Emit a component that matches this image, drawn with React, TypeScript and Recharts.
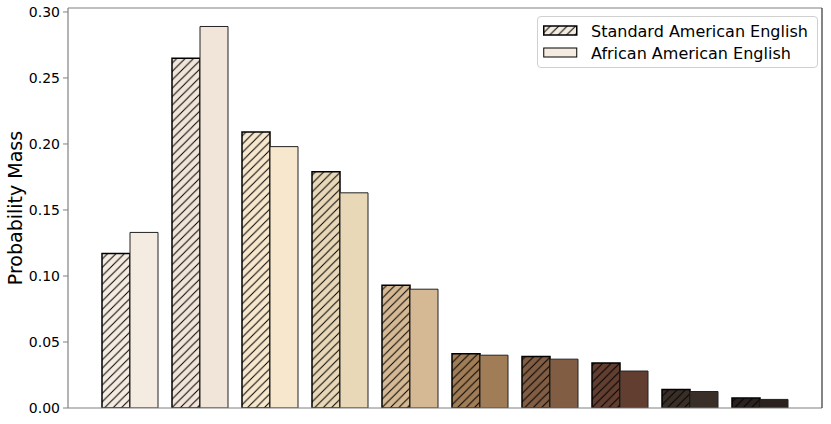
import React from "react";
import { BarChart, Bar, XAxis, YAxis, Cell } from "recharts";

const categories = ["1", "2", "3", "4", "5", "6", "7", "8", "9", "10"];
const saeValues = [0.117, 0.265, 0.209, 0.179, 0.093, 0.041, 0.039, 0.034, 0.014, 0.0075];
const aaeValues = [0.133, 0.289, 0.198, 0.163, 0.090, 0.040, 0.037, 0.028, 0.0125, 0.0065];
const groupColors = [
  "#f4ebe1",
  "#f1e4d9",
  "#f6e7cd",
  "#e8d8b8",
  "#d5b994",
  "#a07d56",
  "#815d43",
  "#613e30",
  "#3a2f28",
  "#2a221e",
];
const yTicks = [0, 0.05, 0.1, 0.15, 0.2, 0.25, 0.3];
const seriesNames = ["Standard American English", "African American English"];

const data = categories.map((c, i) => ({ cat: c, sae: saeValues[i], aae: aaeValues[i] }));

const FONT = "'DejaVu Sans', sans-serif";
const H = 8.4;

function Patterns() {
  return (
    <svg width={0} height={0} style={{ position: "absolute" }}>
      <defs>
        {groupColors.map((c, i) => (
          <pattern key={i} id={`hatch-${i}`} patternUnits="userSpaceOnUse" width={H} height={H}>
            <rect x={0} y={0} width={H} height={H} fill={c} />
            <path
              d={`M-1,1 l2,-2 M0,${H} l${H},${-H} M${H - 1},${H + 1} l2,-2`}
              stroke="#000"
              strokeWidth={1}
            />
          </pattern>
        ))}
      </defs>
    </svg>
  );
}

function LegendBox() {
  const row = (hatched: boolean, label: string) => (
    <div style={{ display: "flex", alignItems: "center", height: 22 }}>
      <svg width={36} height={12} style={{ marginRight: 12 }}>
        <rect
          x={0.75}
          y={1}
          width={33}
          height={9}
          fill={hatched ? "url(#hatch-0)" : groupColors[0]}
          stroke="#000"
          strokeWidth={hatched ? 1.5 : 1}
        />
      </svg>
      <span style={{ fontFamily: FONT, fontSize: 16, color: "#000", whiteSpace: "nowrap" }}>{label}</span>
    </div>
  );
  return (
    <div
      style={{
        position: "absolute",
        left: 537,
        top: 16,
        border: "1px solid #d0d0d0",
        borderRadius: 4,
        background: "rgba(255,255,255,0.8)",
        padding: "3px 6px 3px 5px",
        boxSizing: "border-box",
        width: 281,
      }}
    >
      {row(true, seriesNames[0])}
      {row(false, seriesNames[1])}
    </div>
  );
}

export default function App() {
  return (
    <div style={{ position: "absolute", left: 0, top: 0, width: 831, height: 424, background: "#fff" }}>
      <Patterns />
      <BarChart
        width={831}
        height={424}
        data={data}
        margin={{ top: 7, right: 8, bottom: 15, left: 0 }}
        barCategoryGap={7}
        barGap={0}
      >
        <XAxis
          dataKey="cat"
          tick={false}
          tickLine={false}
          axisLine={{ stroke: "#808080", strokeWidth: 1.2 }}
          padding={{ left: 27, right: 27 }}
          height={1}
        />
        <XAxis
          xAxisId="top"
          orientation="top"
          dataKey="cat"
          tick={false}
          tickLine={false}
          axisLine={{ stroke: "#808080", strokeWidth: 1.2 }}
          height={1}
        />
        <YAxis
          domain={[0, 0.303]}
          ticks={yTicks}
          tickFormatter={(v: number) => v.toFixed(2)}
          width={68}
          tickSize={5}
          tickMargin={3}
          tick={{ fontFamily: FONT, fontSize: 14, fill: "#000" }}
          tickLine={{ stroke: "#808080" }}
          axisLine={{ stroke: "#808080", strokeWidth: 1.2 }}
          allowDataOverflow
          label={{
            value: "Probability Mass",
            angle: -90,
            position: "center",
            dx: -19,
            style: { fontFamily: FONT, fontSize: 19, fill: "#000", textAnchor: "middle" },
          }}
        />
        <YAxis
          yAxisId="right"
          orientation="right"
          domain={[0, 0.303]}
          tick={false}
          tickLine={false}
          width={1}
          axisLine={{ stroke: "#333", strokeWidth: 1.2 }}
        />
        <Bar dataKey="sae" name={seriesNames[0]} isAnimationActive={false}>
          {data.map((_, i) => (
            <Cell key={i} fill={`url(#hatch-${i})`} stroke="#000" strokeWidth={1.5} />
          ))}
        </Bar>
        <Bar dataKey="aae" name={seriesNames[1]} isAnimationActive={false}>
          {data.map((_, i) => (
            <Cell key={i} fill={groupColors[i]} stroke="#222" strokeWidth={1} />
          ))}
        </Bar>
      </BarChart>
      <LegendBox />
    </div>
  );
}
